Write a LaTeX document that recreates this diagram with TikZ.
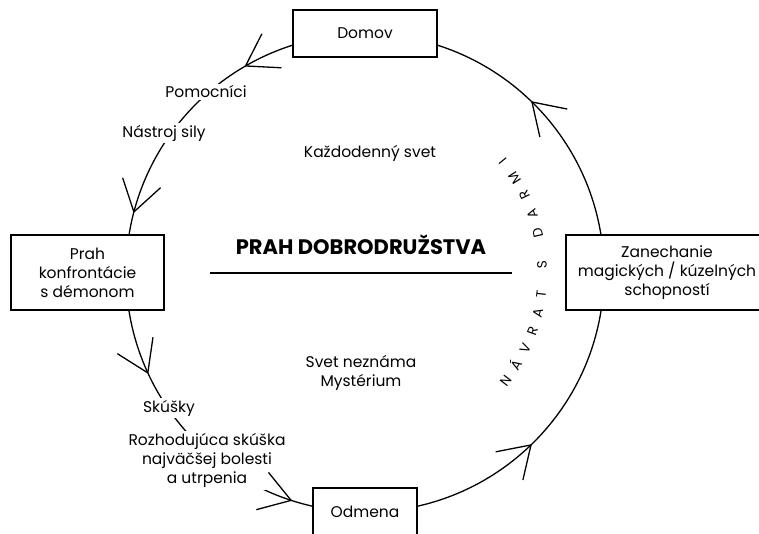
\documentclass[tikz,border=0pt]{standalone}
\usepackage{fontspec}
\setmainfont{Poppins}
\usetikzlibrary{decorations.markings}
\begin{document}
\begin{tikzpicture}[x=1pt,y=1pt,
  line width=1.3pt,
  every node/.style={font=\fontsize{15.5}{19}\selectfont},
  box/.style={draw, fill=white, align=center, minimum height=47pt, inner sep=0pt},
  onring/.style={fill=white, align=center, inner sep=2pt},
  barbmark/.style={decoration={markings,
    mark=at position #1 with {\draw[line join=round] (-30.2pt,19.6pt) -- (0pt,0pt) -- (-30.2pt,-19.6pt);}},
    postaction={decorate}},
  ringletter/.style={anchor=base, font=\fontsize{13.5}{15}\selectfont}
]
\useasboundingbox (0,0) rectangle (759,534);
\clip (0,0) rectangle (759,534);

% the journey ring
\coordinate (c) at (365,261);
\draw (c) circle[radius=239pt];

% stations written onto the ring
\node[onring] (pomoc) at (206,442) {Pomocníci};
\node[onring] (nastroj) at (164,401) {Nástroj sily};
\node[onring] (skusky) at (169,126) {Skúšky};
\node[onring] (rozhod) at (207,73.5) {Rozhodujúca skúška\\najväčšej bolesti\\a utrpenia};

% open arrowheads along the ring (direction of travel)
\path[barbmark=0.1269] (c) circle[radius=239pt];
\path[barbmark=0.3333] (c) circle[radius=239pt];
\path[barbmark=0.4589] (c) circle[radius=239pt];
\path[barbmark=0.5686] (c) circle[radius=239pt];
\path[barbmark=0.7000] (c) circle[radius=239pt];
\path[barbmark=0.8722] (c) circle[radius=239pt];

% main stations
\node[box, minimum width=144pt] (domov) at (365,500.5) {Domov};
\node[box, minimum width=153pt, minimum height=75pt] (prah) at (87.5,261.5) {Prah\\konfrontácie\\s démonom};
\node[box, minimum width=202pt, minimum height=75pt] (zanech) at (667,261.5) {Zanechanie\\magických / kúzelných\\schopností};
\node[box, minimum width=104pt] (odmena) at (365,22.5) {Odmena};

% the threshold between the two worlds
\node[font=\fontsize{21}{24}\selectfont\bfseries] (title) at (361,289) {PRAH DOBRODRUŽSTVA};
\coordinate (ruleL) at (210,261);
\coordinate (ruleR) at (512,261);
\draw (ruleL) -- (ruleR);

\node (kazdo) at (370,381) {Každodenný svet};
\node[align=center] (nezn) at (361,161) {Svet neznáma\\Mystérium};

% return path lettering, set along an inner arc
\foreach \ch/\a [count=\i] in {N/-37.5, Á/-31.4, V/-25.3, R/-19.2, A/-13.0, T/-6.8, S/2.8, D/13.0, A/19.5, R/26.0, M/32.5, I/39.0}
  \node[ringletter, rotate=\a+90] (navrat\i) at ([shift={(\a:182pt)}]c) {\ch};
\end{tikzpicture}
\end{document}
